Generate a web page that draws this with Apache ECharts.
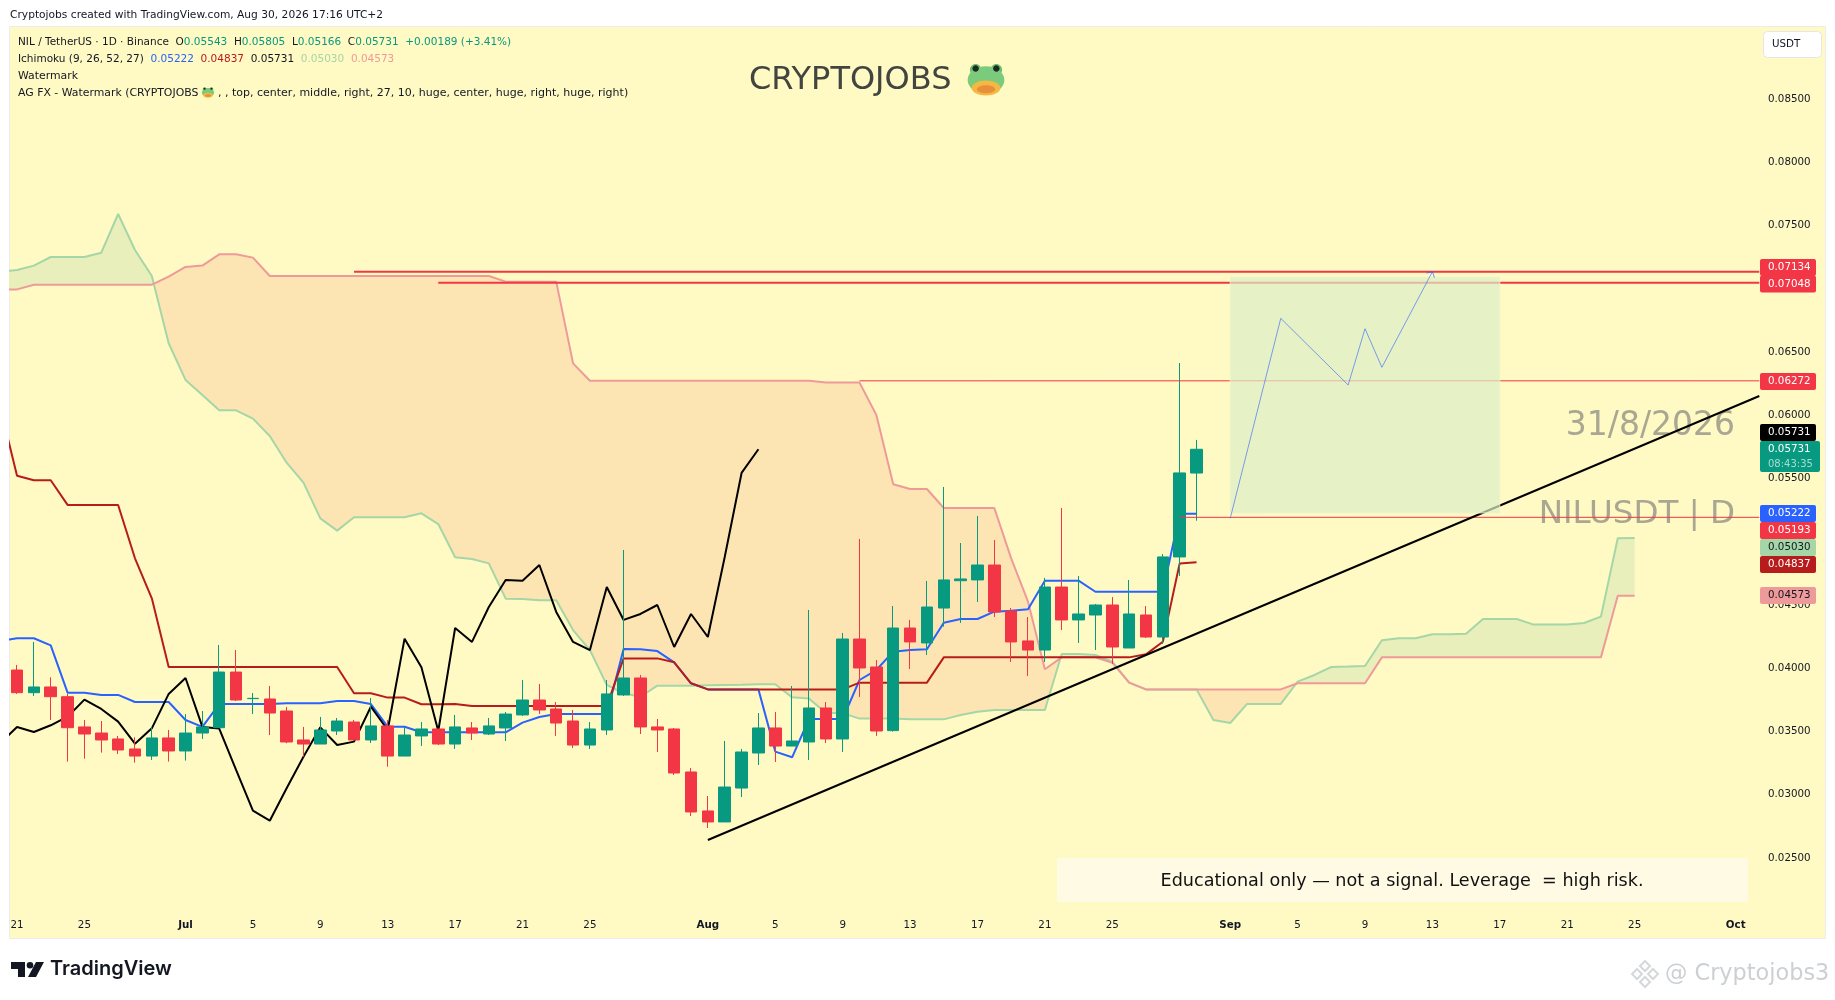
<!DOCTYPE html>
<html><head><meta charset="utf-8"><title>NILUSDT</title>
<style>html,body{margin:0;padding:0;background:#fff}#c{width:1835px;height:1000px}</style>
<script src="https://cdn.jsdelivr.net/npm/echarts@6/dist/echarts.min.js"></script></head>
<body><div id="c"></div>
<script>
const monthDays = [['Jun',20,30],['Jul',1,31],['Aug',1,31],['Sep',1,30],['Oct',1,2]];
const tickDays = [1,5,9,13,17,21,25];
const categories = [];
monthDays.forEach(m=>{for(let d=m[1];d<=m[2];d++)categories.push(d===1?m[0]:String(d));});

const opens = [.03986,.03807,.03852,.03775,.03536,.03488,.03441,.03362,.03306,.03449,.03346,.03488,.03530,.03970,.03760,.03757,.03662,.03433,.03401,.03504,.03575,.03433,.03544,.03306,.03465,.03520,.03401,.03528,.03480,.03528,.03631,.03749,.03678,.03583,.03393,.03512,.03789,.03923,.03536,.03520,.03180,.02872,.02785,.03053,.03330,.03528,.03385,.03417,.03686,.03441,.04231,.04010,.03507,.04318,.04200,.04476,.04692,.04698,.04816,.04453,.04216,.04144,.04642,.04382,.04421,.04500,.04160,.04421,.04247,.04880,.05543];
const closes = [.03807,.03852,.03775,.03530,.03480,.03433,.03354,.03306,.03449,.03346,.03488,.03536,.03970,.03749,.03762,.03646,.03417,.03401,.03512,.03583,.03433,.03544,.03306,.03472,.03520,.03401,.03536,.03488,.03544,.03638,.03749,.03670,.03567,.03393,.03520,.03797,.03923,.03536,.03512,.03172,.02864,.02785,.03061,.03338,.03528,.03385,.03425,.03686,.03441,.04231,.04002,.03504,.04318,.04208,.04484,.04698,.04706,.04816,.04445,.04208,.04144,.04642,.04382,.04429,.04500,.04168,.04429,.04247,.04880,.05544,.05731];
const lows = [.03797,.03781,.03591,.03262,.03285,.03333,.03322,.03254,.03275,.03262,.03270,.03441,.03530,.03741,.03638,.03472,.03407,.03301,.03401,.03472,.03433,.03409,.03222,.03306,.03386,.03393,.03362,.03433,.03472,.03425,.03623,.03638,.03465,.03370,.03362,.03472,.03781,.03480,.03338,.03156,.02832,.02737,.02785,.02982,.03235,.03259,.03385,.03275,.03409,.03338,.03773,.03465,.03499,.03994,.04105,.04329,.04358,.04524,.04405,.04050,.03939,.04050,.04302,.04200,.04144,.04034,.04160,.04239,.04192,.04729,.05166];
const highs = [.04026,.04208,.03928,.03797,.03591,.03583,.03465,.03454,.03533,.03512,.03638,.03662,.04184,.04144,.03804,.03860,.03694,.03536,.03615,.03607,.03591,.03765,.03591,.03538,.03575,.03520,.03631,.03575,.03607,.03654,.03907,.03876,.03733,.03670,.03575,.03907,.04935,.03947,.03599,.03528,.03212,.02990,.03425,.03362,.03646,.03654,.03860,.04461,.03733,.04279,.05022,.04065,.04492,.04382,.04690,.05433,.04990,.05204,.05014,.04476,.04405,.04714,.05267,.04729,.04508,.04563,.04698,.04492,.04903,.06413,.05805];

const tenkan = [.04215,.04237,.04237,.04181,.03807,.03807,.03789,.03789,.03733,.03733,.03733,.03591,.03536,.03717,.03717,.03717,.03717,.03723,.03723,.03723,.03741,.03741,.03717,.03538,.03538,.03494,.03494,.03494,.03494,.03494,.03494,.03570,.03615,.03638,.03638,.03638,.03638,.04152,.04150,.04136,.04047,.03881,.03833,.03833,.03833,.03833,.03341,.03296,.03599,.03599,.03599,.03907,.03986,.04131,.04144,.04150,.04360,.04389,.04389,.04447,.04455,.04466,.04692,.04692,.04692,.04605,.04605,.04605,.04605,.04605,.05222,.05222];
const kijun = [.06068,.05522,.05486,.05486,.05291,.05291,.05291,.05291,.04869,.04553,.04010,.04010,.04010,.04010,.04010,.04010,.04010,.04010,.04010,.04010,.04010,.03802,.03802,.03768,.03768,.03715,.03715,.03718,.03702,.03702,.03702,.03702,.03702,.03702,.03702,.03702,.03702,.04078,.04078,.04078,.04047,.03881,.03833,.03833,.03833,.03833,.03833,.03833,.03833,.03833,.03833,.03886,.03886,.03886,.03886,.03886,.04086,.04086,.04086,.04086,.04086,.04086,.04086,.04086,.04086,.04086,.04086,.04086,.04110,.04210,.04829,.04837];
const chikou = [.03407,.03536,.03496,.03549,.03617,.03752,.03678,.03578,.03404,.03525,.03797,.03923,.03536,.03523,.03196,.02874,.02795,.03051,.03301,.03533,.03393,.03420,.03696,.03512,.04234,.04007,.03504,.04318,.04208,.04484,.04698,.04692,.04816,.04445,.04208,.04144,.04642,.04382,.04429,.04500,.04168,.04429,.04247,.04880,.05544,.05731];
const spanA = [.07135,.07148,.07183,.07251,.07251,.07251,.07285,.07591,.07306,.07101,.06569,.06279,.06160,.06039,.06039,.05973,.05836,.05625,.05467,.05185,.05088,.05193,.05193,.05193,.05193,.05225,.05140,.04877,.04864,.04829,.04550,.04548,.04537,.04537,.04302,.04144,.03868,.03802,.03775,.03862,.03862,.03862,.03865,.03868,.03870,.03873,.03873,.03770,.03760,.03649,.03645,.03602,.03602,.03602,.03596,.03596,.03596,.03631,.03656,.03670,.03670,.03670,.03670,.04113,.04113,.04105,.04052,.03886,.03833,.03833,.03833,.03833,.03591,.03567,.03718,.03718,.03718,.03894,.03947,.04010,.04013,.04018,.04221,.04237,.04237,.04268,.04268,.04273,.04389,.04389,.04389,.04345,.04345,.04345,.04358,.04408,.05027,.05030];
const spanB = [.06995,.06995,.07032,.07032,.07032,.07032,.07032,.07032,.07032,.07032,.07096,.07172,.07183,.07272,.07272,.07246,.07101,.07101,.07101,.07101,.07101,.07101,.07101,.07101,.07101,.07101,.07101,.07101,.07101,.07101,.07056,.07056,.07056,.07056,.06410,.06273,.06273,.06273,.06273,.06273,.06273,.06273,.06273,.06273,.06273,.06273,.06273,.06273,.06273,.06258,.06258,.06258,.06002,.05454,.05417,.05417,.05267,.05267,.05267,.05267,.04869,.04526,.03992,.04086,.04086,.04086,.04044,.03886,.03833,.03833,.03833,.03833,.03833,.03833,.03833,.03833,.03833,.03881,.03881,.03881,.03881,.03881,.04086,.04086,.04086,.04086,.04086,.04086,.04086,.04086,.04086,.04086,.04086,.04086,.04086,.04086,.04573,.04573];

const trendLine = [[41,.02642],[103.4,.06152]];
const resistanceA = [[20,.07134],[103.4,.07134]];
const resistanceB = [[25,.07048],[103.4,.07048]];
const resistanceC = [[50,.06272],[103.4,.06272]];
const supportLine = [[69,.05193],[103.4,.05193]];
const targetBox = [72,88,.05227,.07093];
const forecastPath = [[72,.05185],[75,.06766],[79,.06239],[80,.06684],[81,.06379],[84,.07135]];

const priceTags = [
 ['0.07134','#F23645','#fff',259],['0.07048','#F23645','#fff',275.5],['0.06272','#F23645','#fff',373],
 ['0.05731','#000000','#fff',424],['0.05222','#2962FF','#fff',505],['0.05193','#F23645','#fff',522],
 ['0.05030','#A5D6A7','#131722',539],['0.04837','#B71C1C','#fff',556],['0.04573','#EF9A9A','#131722',587]];

const FONT = '"DejaVu Sans", sans-serif';
const SMALL = '10.3px '+FONT;
const ROW = '10.5px '+FONT;
const INK = '#131722', GREEN='#089981', RED='#F23645';
const PANE = '#FFF9C4';

function cloudRuns(){
  const runs=[]; let cur=null;
  const xOf=n=>n-1;
  function push(s,x,a,b){ if(!cur||cur.s!==s){ if(cur)runs.push(cur); cur={s,top:[],bot:[]}; } cur.top.push([x,a]); cur.bot.push([x,b]); }
  for(let n=0;n<spanA.length;n++){
    const d=spanA[n]-spanB[n], s=d>=0?1:-1;
    if(n>0){
      const pd=spanA[n-1]-spanB[n-1], ps=pd>=0?1:-1;
      if(s!==ps){
        const t=pd/(pd-d), x=xOf(n-1)+t, v=spanA[n-1]+t*(spanA[n]-spanA[n-1]);
        push(ps,x,v,v); push(s,x,v,v);
      }
    }
    push(s,xOf(n),spanA[n],spanB[n]);
  }
  if(cur)runs.push(cur);
  return runs;
}
const runs=cloudRuns();

const lineBase={type:'line',showSymbol:false,symbol:'none',silent:true,animation:false,connectNulls:false};
const T=(t,x,y,o)=>({type:'text',x,y,z:o&&o.z||30,style:Object.assign({text:t,fill:INK,font:SMALL,textVerticalAlign:'middle'},o||{})});

function frog(cx,cy,s,z){
  const e=(x,y,rx,ry,c)=>({type:'ellipse',z,shape:{cx:cx+x*s,cy:cy+y*s,rx:rx*s,ry:ry*s},style:{fill:c}});
  return [e(-9,-9,5,5,'#6CC070'),e(9,-9,5,5,'#6CC070'),e(0,0,16,12,'#7CCB7C'),e(-9,-10,2.8,2.8,'#1d2b22'),e(9,-10,2.8,2.8,'#1d2b22'),
          e(0,7,12.5,6.5,'#F4B942'),e(0,8,8,3.5,'#E98F3B')];
}
function diamond(cx,cy,r,c){
  return {type:'polygon',z:30,shape:{points:[[cx,cy-r],[cx+r,cy],[cx,cy+r],[cx-r,cy]]},style:{fill:'none',stroke:c,lineWidth:2}};
}

const graphics=[
 {type:'rect',z:-5,shape:{x:9.5,y:26.5,width:1816,height:912},style:{fill:PANE,stroke:'#ECECEC',lineWidth:1}},
 {type:'rect',z:50,shape:{x:0,y:0,width:9,height:1000},style:{fill:'#fff'}},
 T('Cryptojobs created with TradingView.com, Aug 30, 2026 17:16 UTC+2',10,15,{font:'10.67px '+FONT,z:60}),
 {type:'text',x:18,y:42,z:60,style:{textVerticalAlign:'middle',font:ROW,fill:INK,
   text:'NIL / TetherUS · 1D · Binance  O{g|0.05543}  H{g|0.05805}  L{g|0.05166}  C{g|0.05731}  {g|+0.00189 (+3.41%)}',
   rich:{g:{fill:GREEN,font:ROW}}}},
 {type:'text',x:18,y:59.5,z:60,style:{textVerticalAlign:'middle',font:ROW,fill:INK,
   text:'Ichimoku (9, 26, 52, 27)  {b|0.05222}  {r|0.04837}  0.05731  {a|0.05030}  {p|0.04573}',
   rich:{b:{fill:'#2962FF',font:ROW},r:{fill:'#B71C1C',font:ROW},a:{fill:'#A5D6A7',font:ROW},p:{fill:'#EF9A9A',font:ROW}}}},
 T('Watermark',18,76,{font:'10.9px '+FONT,z:60}),
 T('AG FX - Watermark (CRYPTOJOBS',18,93,{font:'10.9px '+FONT,z:60}),
 T(', , top, center, middle, right, 27, 10, huge, center, huge, right, huge, right)',218,93,{font:'11px '+FONT,z:60}),
 ...frog(208,92.5,0.38,60),
 T('CRYPTOJOBS',749,81,{font:'32px '+FONT,fill:'#42453f',z:1}),
 ...frog(986,80,1.15,1),
 T('31/8/2026',1735,426,{font:'33px '+FONT,fill:'#A9A692',textAlign:'right',z:1}),
 T('NILUSDT | D',1735,515,{font:'32.5px '+FONT,fill:'#A9A692',textAlign:'right',z:1}),
 {type:'rect',z:1,shape:{x:1057,y:858,width:691,height:44},style:{fill:'#FEFAE3'}},
 T('Educational only — not a signal. Leverage  = high risk.',1402,881,{font:'17.6px '+FONT,fill:'#111',textAlign:'center',z:1}),
 {type:'rect',z:60,shape:{x:1763.5,y:31.5,width:58,height:26,r:4},style:{fill:'#fff',stroke:'#E6E6E6',lineWidth:1}},
 T('USDT',1772,44.5,{z:61}),
 ...priceTags.flatMap(p=>[
   {type:'rect',z:60,shape:{x:1760,y:p[3],width:56,height:17,r:2},style:{fill:p[1]}},
   T(p[0],1768,p[3]+8.5,{font:'10.3px '+FONT,fill:p[2],z:61})]),
 {type:'rect',z:62,shape:{x:1760,y:441,width:60,height:31,r:2},style:{fill:GREEN}},
 T('0.05731',1768,449.5,{font:'10.3px '+FONT,fill:'#fff',z:63}),
 T('08:43:35',1768,464,{font:'10px '+FONT,fill:'#A9DCCF',z:63}),
 {type:'polygon',z:30,shape:{points:[[11,962],[25,962],[25,977],[18,977],[18,969],[11,969]]},style:{fill:'#131722'}},
 {type:'circle',z:30,shape:{cx:30,cy:965.3,r:3.3},style:{fill:'#131722'}},
 {type:'polygon',z:30,shape:{points:[[36,962],[44,962],[36,977],[28,977]]},style:{fill:'#131722'}},
 T('TradingView',50,969,{font:'600 20px Inter, sans-serif',fill:'#131722',z:30}),
 diamond(1645,966,5,'#D5D8DA'),diamond(1637,974,5,'#D5D8DA'),diamond(1653,974,5,'#D5D8DA'),diamond(1645,982,5,'#D5D8DA'),
 T('@ Cryptojobs3',1665,974,{font:'22.4px '+FONT,fill:'#CDD0D3',z:30})
];

const option={
 animation:false,backgroundColor:'#ffffff',textStyle:{fontFamily:FONT},
 grid:{left:-8.25,top:35.75,width:1769.25,height:885.5,containLabel:false,outerBoundsMode:'none'},
 xAxis:[
  {type:'category',data:categories,boundaryGap:true,axisLine:{show:false},axisTick:{show:false},splitLine:{show:false},
   axisLabel:{margin:-1,color:INK,fontSize:10.3,fontFamily:FONT,hideOverlap:false,
     interval:(i,v)=>tickDays.includes(Number(v))||isNaN(Number(v)),
     formatter:v=>isNaN(Number(v))?'{m|'+v+'}':v,rich:{m:{fontWeight:600,fontSize:10.3,color:INK,fontFamily:FONT}}}},
  {type:'value',min:-1.5,max:103.5,show:false}
 ],
 yAxis:[{type:'value',position:'right',min:0.02,max:0.09,interval:0.005,axisLine:{show:false},axisTick:{show:false},splitLine:{show:false},
   axisLabel:{margin:7,color:INK,fontSize:10.3,fontFamily:FONT,align:'left',
     formatter:v=>(v<0.024||v>0.086)?'':v.toFixed(5)}}],
 graphic:{elements:graphics},
 series:[
  {type:'custom',xAxisIndex:1,yAxisIndex:0,z:1,silent:true,animation:false,encode:{x:0,y:1},data:[[0,0.05]],
   renderItem:(p,api)=>({type:'group',children:runs.map(r=>({type:'polygon',
     shape:{points:r.top.concat(r.bot.slice().reverse()).map(q=>api.coord(q))},
     style:{fill:r.s>0?'#E9EFBB':'#FDE5B3'}}))})},
  Object.assign({},lineBase,{name:'Senkou A',data:spanA,z:2,lineStyle:{color:'#A5D6A7',width:2}}),
  Object.assign({},lineBase,{name:'Senkou B',data:spanB,z:2,lineStyle:{color:'#EF9A9A',width:2}}),
  Object.assign({},lineBase,{name:'Tenkan',data:tenkan,z:2,lineStyle:{color:'#2962FF',width:2}}),
  Object.assign({},lineBase,{name:'Kijun',data:kijun,z:2,lineStyle:{color:'#B71C1C',width:2}}),
  Object.assign({},lineBase,{name:'Chikou',data:chikou,z:2,lineStyle:{color:'#000000',width:2}}),
  {type:'candlestick',name:'NILUSDT',z:3,barWidth:12,silent:true,animation:false,
   data:[['-','-','-','-']].concat(opens.map((o,i)=>[o,closes[i],lows[i],highs[i]])),
   itemStyle:{color:GREEN,color0:RED,borderColor:GREEN,borderColor0:RED,borderWidth:1}},
  Object.assign({},lineBase,{xAxisIndex:1,data:resistanceA,z:4,lineStyle:{color:RED,width:2}}),
  Object.assign({},lineBase,{xAxisIndex:1,data:resistanceB,z:4,lineStyle:{color:RED,width:2}}),
  Object.assign({},lineBase,{xAxisIndex:1,data:resistanceC,z:4,lineStyle:{color:RED,width:1}}),
  Object.assign({},lineBase,{xAxisIndex:1,data:supportLine,z:4,lineStyle:{color:RED,width:1}}),
  Object.assign({},lineBase,{xAxisIndex:1,data:trendLine,z:4,lineStyle:{color:'#000',width:2}}),
  {type:'custom',xAxisIndex:1,yAxisIndex:0,z:5,silent:true,animation:false,encode:{x:0,y:2},data:[targetBox],
   renderItem:(p,api)=>{const a=api.coord([api.value(0),api.value(3)]),b=api.coord([api.value(1),api.value(2)]);
     return {type:'rect',shape:{x:a[0],y:a[1],width:b[0]-a[0],height:b[1]-a[1]},style:{fill:'rgba(221,238,200,0.7)',stroke:'rgba(238,245,205,0.8)',lineWidth:1}};}},
  Object.assign({},lineBase,{xAxisIndex:1,data:forecastPath,z:6,lineStyle:{color:'rgba(41,98,255,0.6)',width:1}}),
  {type:'custom',xAxisIndex:1,yAxisIndex:0,z:6,silent:true,animation:false,encode:{x:0,y:1},data:[forecastPath[forecastPath.length-1]],
   renderItem:(p,api)=>{const e=api.coord([api.value(0),api.value(1)]);
     return {type:'polyline',shape:{points:[[e[0]-6,e[1]+1.5],[e[0],e[1]],[e[0]+2,e[1]+6]]},style:{stroke:'rgba(41,98,255,0.7)',fill:'none',lineWidth:1}};}}
 ]
};
echarts.init(document.getElementById('c'),null,{renderer:'canvas'}).setOption(option);
</script></body></html>
